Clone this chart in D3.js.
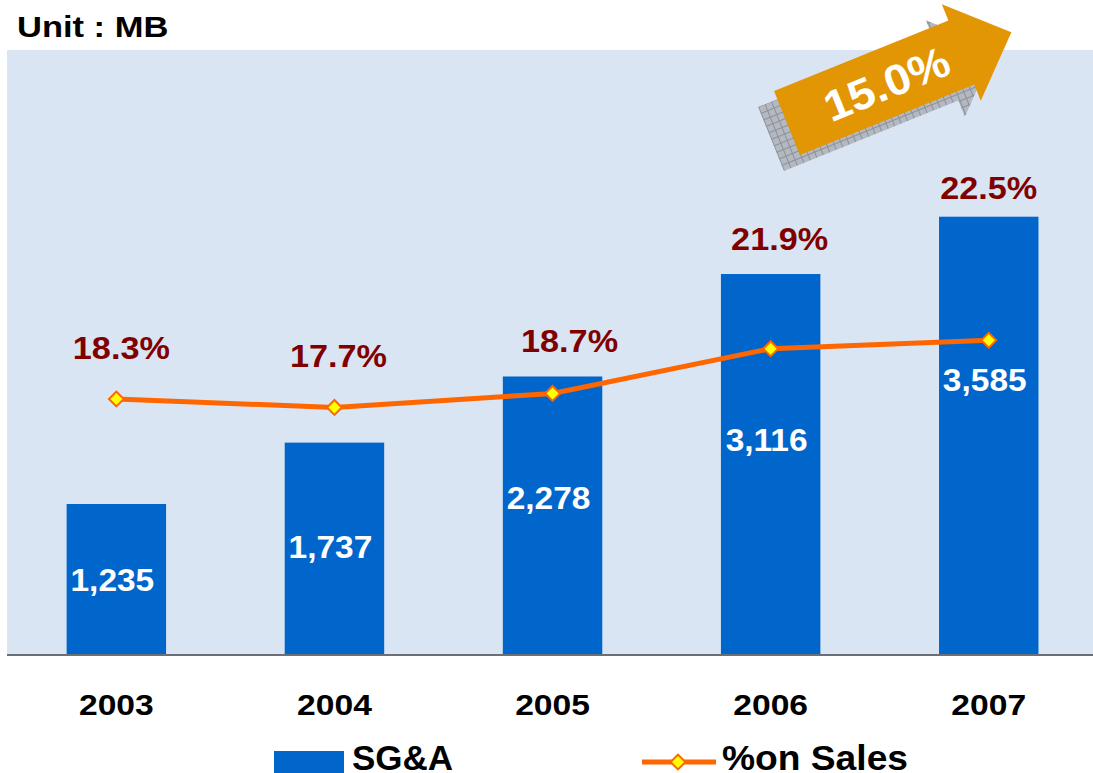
<!DOCTYPE html>
<html lang="en">
<head>
<meta charset="utf-8">
<title>SG&amp;A</title>
<script src="https://d3js.org/d3.v7.min.js"></script>
<style>
  body { margin: 0; background: #fff; }
  svg text { font-family: "Liberation Sans", Arial, sans-serif; font-weight: bold; }
</style>
</head>
<body>
<svg id="chart" width="1093" height="773"></svg>
<script>
// data
var years = ["2003", "2004", "2005", "2006", "2007"];
var sga = [1235, 1737, 2278, 3116, 3585];
var pctOnSales = [18.3, 17.7, 18.7, 21.9, 22.5];
var growthLabel = "15.0%";
var unitLabel = "Unit : MB";
var legendLabels = ["SG&A", "%on Sales"];

var svg = d3.select("#chart");
var plot = { left: 7, right: 1093, top: 50, bottom: 655 };

var x = d3.scaleBand().domain(years).range([7.3, 1097.8])
    .paddingInner(0.544).paddingOuter(0.272);
var y = d3.scaleLinear().domain([0, 5000]).range([655, 43.7]);
var y2 = d3.scaleLinear().domain([0, 43.7]).range([655, 43.7]);

// text helper, the original text is a bit wider than the font
function label(g, px, py, txt, size, sx) {
  return g.append("text")
    .attr("transform", "translate(" + px + "," + py + ") scale(" + sx + ",1)")
    .attr("text-anchor", "middle")
    .style("font-size", size + "px")
    .text(txt);
}

// plot background
svg.append("rect")
  .attr("x", plot.left).attr("y", plot.top)
  .attr("width", plot.right - plot.left).attr("height", plot.bottom - plot.top)
  .attr("fill", "#d9e5f2");

svg.append("text")
  .attr("transform", "translate(17,37) scale(1.15,1)")
  .style("font-size", "30px")
  .text(unitLabel);

// growth arrow (decoration)
var defs = svg.append("defs");
var pat = defs.append("pattern").attr("id", "hatch")
  .attr("patternUnits", "userSpaceOnUse").attr("width", 7).attr("height", 7);
pat.append("rect").attr("width", 7).attr("height", 7).attr("fill", "#b4b8c0");
pat.append("path").attr("d", "M0,0.5H7M0.5,0V7").attr("stroke", "#8c9098").attr("stroke-width", 1);

var arrowPts = [[0, -34.5], [188, -34.5], [188, -52], [242, 0], [188, 52], [188, 34.5], [0, 34.5]];
var arrowAng = -22;
function arrow(dx, dy, fill) {
  svg.append("polygon")
    .attr("transform", "translate(" + (787 + dx) + "," + (123 + dy) + ") rotate(" + arrowAng + ")")
    .attr("points", arrowPts.map(function(p) { return p.join(","); }).join(" "))
    .attr("fill", fill);
}
arrow(-16, 16, "url(#hatch)");
arrow(0, 0, "#e39604");
svg.append("text")
  .attr("transform", "translate(787,123) rotate(" + arrowAng + ") translate(107,16) scale(1.08,1)")
  .attr("text-anchor", "middle")
  .attr("fill", "#fff")
  .style("font-size", "43px")
  .text(growthLabel);

// bars
svg.selectAll(".bar")
  .data(sga)
  .enter().append("rect")
  .attr("class", "bar")
  .attr("x", function(d, i) { return x(years[i]); })
  .attr("y", function(d) { return y(d); })
  .attr("width", x.bandwidth())
  .attr("height", function(d) { return y(0) - y(d); })
  .attr("fill", "#0066cc");

// axis line
svg.append("line")
  .attr("x1", plot.left).attr("x2", plot.right)
  .attr("y1", 655).attr("y2", 655)
  .attr("stroke", "#6b7078").attr("stroke-width", 2);

// year labels
var yearG = svg.append("g");
years.forEach(function(yr) {
  label(yearG, x(yr) + x.bandwidth() / 2, 715, yr, 29, 1.16);
});

// value labels inside bars (shifted to keep clear of the line)
var valueShift = [0, -2, -18, -25, -56];
var valG = svg.append("g").attr("fill", "#fff");
sga.forEach(function(v, i) {
  var mid = (y(v) + y(0)) / 2;
  label(valG, x(years[i]) + x.bandwidth() / 2 - 4, mid + 11 + valueShift[i], d3.format(",")(v), 31, 1.08);
});

// % on sales line
var cx = function(i) { return x(years[i]) + x.bandwidth() / 2; };
var line = d3.line()
  .x(function(d, i) { return cx(i); })
  .y(function(d) { return y2(d); });
svg.append("path")
  .datum(pctOnSales)
  .attr("d", line)
  .attr("fill", "none")
  .attr("stroke", "#ff6600")
  .attr("stroke-width", 5);

var diamond = d3.symbol().type(d3.symbolSquare).size(110);
svg.selectAll(".mk")
  .data(pctOnSales)
  .enter().append("path")
  .attr("class", "mk")
  .attr("d", diamond)
  .attr("transform", function(d, i) { return "translate(" + cx(i) + "," + y2(d) + ") rotate(45)"; })
  .attr("fill", "#ffff00")
  .attr("stroke", "#ff6600")
  .attr("stroke-width", 2);

// percentage labels
var pctShift = [5, 4, 17, 9, 0];
var pctLift = [0, 0, 0, 0, 6];
var pctG = svg.append("g").attr("fill", "#800000");
pctOnSales.forEach(function(p, i) {
  var py = Math.min(y2(p) - 40, y(sga[i]) - 24) + pctLift[i];
  label(pctG, cx(i) + pctShift[i], py, p.toFixed(1) + "%", 32, 1.07);
});

// legend
svg.append("rect").attr("x", 274).attr("y", 751).attr("width", 70).attr("height", 30).attr("fill", "#0066cc");
svg.append("text").attr("x", 352).attr("y", 770).style("font-size", "35px").text(legendLabels[0]);
svg.append("line").attr("x1", 642).attr("x2", 716).attr("y1", 762).attr("y2", 762)
  .attr("stroke", "#ff6600").attr("stroke-width", 5);
svg.append("path").attr("d", diamond)
  .attr("transform", "translate(678,762) rotate(45)")
  .attr("fill", "#ffff00").attr("stroke", "#ff6600").attr("stroke-width", 2);
svg.append("text").attr("x", 722).attr("y", 770).style("font-size", "35px")
  .attr("textLength", 186).attr("lengthAdjust", "spacingAndGlyphs").text(legendLabels[1]);
</script>
</body>
</html>
